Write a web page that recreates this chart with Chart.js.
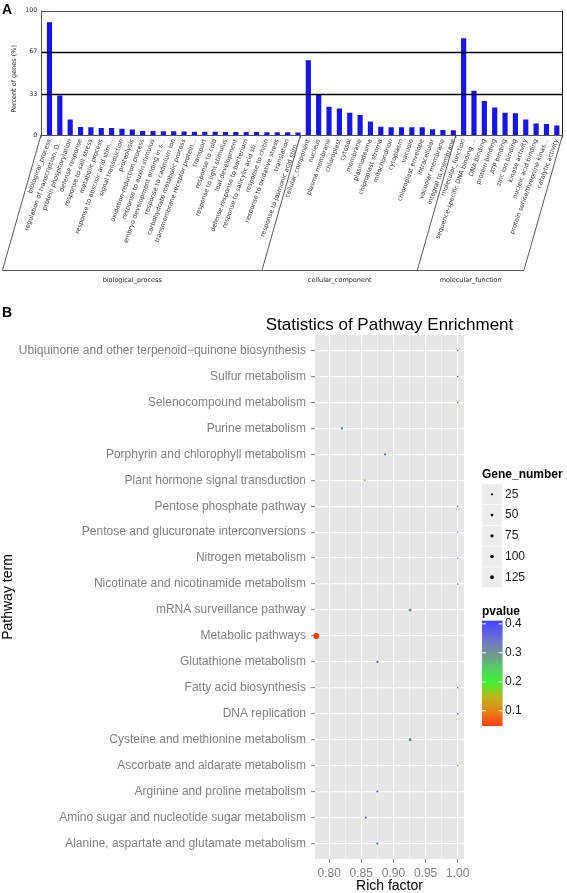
<!DOCTYPE html>
<html>
<head>
<meta charset="utf-8">
<script src="https://cdn.jsdelivr.net/npm/chart.js@4.4.0/dist/chart.umd.min.js"></script>
<style>
body { margin:0; background:#fff; }
#wrapA { position:absolute; left:0; top:0; width:567px; height:295px; }
#wrapB { position:absolute; left:0; top:295px; width:567px; height:598px; }
</style>
</head>
<body>
<div id="wrapA"><canvas id="goChart"></canvas></div>
<div id="wrapB"><canvas id="keggChart"></canvas></div>
<script>
// ---- dados painel A (GO) ----
const goTerms = [
  'biological_process', 'regulation of transcription, D...', 'protein phosphorylation', 'defense response',
  'response to salt stress', 'metabolic process', 'response to abscisic acid stim...', 'signal transduction',
  'proteolysis', 'oxidation-reduction process', 'response to auxin stimulus', 'embryo development ending in s...',
  'response to cadmium ion', 'carbohydrate metabolic process', 'transmembrane receptor protein...', 'transport',
  'response to cold', 'response to light stimulus', 'leaf development', 'defense response to bacterium',
  'response to salicylic acid sti...', 'response to chitin', 'response to oxidative stress', 'translation',
  'response to jasmonic acid stim...',
  'cellular_component', 'nucleus', 'plasma membrane', 'chloroplast', 'cytosol', 'membrane', 'plasmodesma',
  'chloroplast stroma', 'mitochondrion', 'cytoplasm', 'vacuole', 'chloroplast envelope', 'intracellular',
  'vacuolar membrane', 'integral to membrane',
  'molecular_function', 'sequence-specific DNA binding ...', 'DNA binding', 'protein binding', 'ATP binding',
  'zinc ion binding', 'kinase activity', 'nucleic acid binding', 'protein serine/threonine kinas...', 'catalytic activity'
]
const goPercent = [
  90.7, 31.7, 12.4, 6.4, 6.2, 5.7, 5.7, 5.1, 4.4, 3.3, 3.3, 3.1, 3.1, 2.8, 2.6,
  2.6, 2.6, 2.5, 2.4, 2.4, 2.4, 2.3, 2.3, 2.3, 2.0,
  60.1, 32.5, 22.7, 21.4, 18.0, 16.2, 10.8, 6.7, 6.2, 6.2, 6.2, 6.2, 4.6, 4.1, 3.9,
  77.9, 35.6, 27.3, 22.2, 18.0, 17.5, 12.4, 9.3, 8.8, 7.7
]
const goGroupNames = ['biological_process', 'cellular_component', 'molecular_function']
const goGroupSizes = [25, 15, 10]
const goYTicks = [0, 33, 67, 100]

// ---- dados painel B (KEGG) ----
const pathways = [
  'Ubiquinone and other terpenoid\u2212quinone biosynthesis', 'Sulfur metabolism', 'Selenocompound metabolism',
  'Purine metabolism', 'Porphyrin and chlorophyll metabolism', 'Plant hormone signal transduction',
  'Pentose phosphate pathway', 'Pentose and glucuronate interconversions', 'Nitrogen metabolism',
  'Nicotinate and nicotinamide metabolism', 'mRNA surveillance pathway', 'Metabolic pathways',
  'Glutathione metabolism', 'Fatty acid biosynthesis', 'DNA replication', 'Cysteine and methionine metabolism',
  'Ascorbate and aldarate metabolism', 'Arginine and proline metabolism', 'Amino sugar and nucleotide sugar metabolism',
  'Alanine, aspartate and glutamate metabolism'
]
const richFactor = [1.0, 1.0, 1.0, 0.82, 0.887, 0.855, 1.0, 1.0, 1.0, 1.0, 0.926, 0.780, 0.875, 1.0, 1.0, 0.926, 1.0, 0.875, 0.857, 0.875]
const geneNumber = [1, 1, 1, 9, 8, 6, 1, 1, 1, 1, 25, 140, 7, 1, 1, 25, 1, 7, 6, 7]
const pvalue = [0.40, 0.40, 0.40, 0.33, 0.36, 0.15, 0.40, 0.40, 0.40, 0.40, 0.30, 0.06, 0.37, 0.40, 0.40, 0.30, 0.40, 0.37, 0.35, 0.37]
const richTicks = [0.8, 0.825, 0.85, 0.875, 0.9, 0.925, 0.95, 0.975, 1.0]
const richLabels = ['0.80', '', '0.85', '', '0.90', '', '0.95', '', '1.00']
const geneBreaks = [25, 50, 75, 100, 125]
const pBreaks = [0.4, 0.3, 0.2, 0.1]

// escala de cores do pvalue
const pStops = [0.05, 0.10, 0.15, 0.20, 0.25, 0.30, 0.35, 0.41]
const pCols = [[255,48,0],[228,120,8],[185,175,10],[50,240,40],[75,200,90],[105,140,140],[95,105,205],[55,55,255]]
function corP(p){
  if(p <= pStops[0]) return 'rgb(' + pCols[0].join(',') + ')'
  for(let i = 1; i < pStops.length; i++){
    if(p <= pStops[i]){
      const t = (p - pStops[i-1]) / (pStops[i] - pStops[i-1])
      const c = pCols[i-1].map((v, k) => Math.round(v + (pCols[i][k] - v) * t))
      return 'rgb(' + c.join(',') + ')'
    }
  }
  return 'rgb(' + pCols[pCols.length-1].join(',') + ')'
}
function raio(n){ return 0.5 + 0.21 * Math.sqrt(n) }

const fonteA = '"DejaVu Sans"'
const fonteB = '"Liberation Sans", Arial'

// PAINEL A - barras GO
const goFrame = {
  id: 'goFrame',
  afterDraw(chart){
    const {ctx, chartArea, scales} = chart
    const xs = scales.x, ys = scales.y
    const left = chartArea.left - 3.3, right = chartArea.right
    const base = ys.getPixelForValue(0)
    ctx.save()
    // linhas horizontais
    goYTicks.forEach(v => {
      const y = Math.round(ys.getPixelForValue(v)) + 0.5
      ctx.strokeStyle = (v === 33 || v === 67) ? '#000' : '#555'
      ctx.lineWidth = (v === 33 || v === 67) ? 1.3 : 1
      ctx.beginPath(); ctx.moveTo(left, y); ctx.lineTo(right, y); ctx.stroke()
    })
    ctx.strokeStyle = '#555'; ctx.lineWidth = 1
    ctx.beginPath(); ctx.moveTo(left + 0.5, chartArea.top); ctx.lineTo(left + 0.5, base); ctx.stroke()
    ctx.strokeStyle = '#222'
    ctx.beginPath(); ctx.moveTo(right + 0.5, chartArea.top); ctx.lineTo(right + 0.5, base); ctx.stroke()

    // divisões dos grupos
    const slot = (xs.getPixelForValue(1) - xs.getPixelForValue(0))
    const tops = [left]
    let acc = 0
    goGroupSizes.forEach((n, i) => {
      acc += n
      if(i < goGroupSizes.length - 1) tops.push(xs.getPixelForValue(acc - 1) + slot * 0.25)
    })
    tops.push(right + 0.5)
    const shift = 38.5, yBase = 270
    ctx.strokeStyle = '#444'; ctx.lineWidth = 0.9
    tops.forEach(tx => {
      ctx.beginPath(); ctx.moveTo(tx, base); ctx.lineTo(tx - shift, yBase); ctx.stroke()
      ctx.beginPath(); ctx.moveTo(tx, base); ctx.lineTo(tx, base + 3); ctx.stroke()
    })
    ctx.beginPath(); ctx.moveTo(tops[0] - shift, yBase + 0.5); ctx.lineTo(tops[tops.length-1] - shift, yBase + 0.5); ctx.stroke()

    ctx.fillStyle = '#222'; ctx.font = '6.5px ' + fonteA
    ctx.textAlign = 'center'; ctx.textBaseline = 'middle'
    goGroupNames.forEach((g, i) => {
      const cx = (tops[i] + tops[i+1]) / 2 - shift
      ctx.fillText(g, cx, 280)
    })

    // titulo do eixo y e letra A
    ctx.save()
    ctx.translate(14, (chartArea.top + base) / 2 + 6)
    ctx.rotate(-Math.PI / 2)
    ctx.fillStyle = '#222'; ctx.font = '6.5px ' + fonteA
    ctx.fillText('Percent of genes (%)', 0, 0)
    ctx.restore()
    ctx.fillStyle = '#000'; ctx.font = 'bold 14px ' + fonteB
    ctx.textAlign = 'left'; ctx.textBaseline = 'alphabetic'
    ctx.fillText('A', 2, 13.5)
    ctx.restore()
  }
}

new Chart(document.getElementById('goChart'), {
  type: 'bar',
  data: {
    labels: goTerms,
    datasets: [{
      data: goPercent,
      backgroundColor: '#1616ec',
      borderWidth: 0,
      categoryPercentage: 1,
      barPercentage: 0.5
    }]
  },
  options: {
    responsive: true,
    maintainAspectRatio: false,
    animation: false,
    layout: { padding: { top: 5.7, right: 5, left: 0, bottom: 0 } },
    plugins: { legend: { display: false }, tooltip: { enabled: false } },
    scales: {
      x: {
        grid: { display: false, drawTicks: false },
        border: { display: false },
        ticks: {
          autoSkip: false, minRotation: 70, maxRotation: 70, padding: 3,
          color: '#333', font: { family: 'DejaVu Sans', size: 6.3 }
        },
        afterFit(s){ s.height = 160; s.paddingLeft = 0; s.paddingRight = 0 }
      },
      y: {
        min: 0, max: 100,
        grid: { display: false, drawTicks: false },
        border: { display: false },
        afterBuildTicks(s){ s.ticks = goYTicks.map(v => ({ value: v })) },
        ticks: { padding: 7, color: '#111', font: { family: 'DejaVu Sans', size: 6.3 } },
        afterFit(s){ s.width = 44.3 }
      }
    }
  },
  plugins: [goFrame]
})

// PAINEL B - enriquecimento de vias
const keggFrame = {
  id: 'keggFrame',
  beforeDraw(chart){
    const {ctx, chartArea} = chart
    ctx.save()
    ctx.fillStyle = '#e6e6e6'
    ctx.fillRect(chartArea.left, chartArea.top, chartArea.right - chartArea.left, chartArea.bottom - chartArea.top)
    ctx.restore()
  },
  afterDraw(chart){
    const {ctx, chartArea} = chart
    ctx.save()
    ctx.fillStyle = '#000'
    ctx.textAlign = 'center'; ctx.textBaseline = 'middle'
    ctx.font = '17px ' + fonteB
    ctx.fillText('Statistics of Pathway Enrichment', (chartArea.left + chartArea.right) / 2, 30.5)
    ctx.font = '14px ' + fonteB
    ctx.fillText('Rich factor', (chartArea.left + chartArea.right) / 2, 591)
    ctx.save()
    ctx.translate(8, (chartArea.top + chartArea.bottom) / 2)
    ctx.rotate(-Math.PI / 2)
    ctx.fillText('Pathway term', 0, 0)
    ctx.restore()

    ctx.textAlign = 'left'
    ctx.font = 'bold 14px ' + fonteB
    ctx.textBaseline = 'alphabetic'
    ctx.fillText('B', 2, 21.7)

    // legenda Gene_number
    const lx = 482
    ctx.textBaseline = 'middle'
    ctx.font = 'bold 12px ' + fonteB
    ctx.fillStyle = '#000'
    ctx.fillText('Gene_number', lx, 180)
    geneBreaks.forEach((g, i) => {
      const cy = 199.3 + i * 20.75
      ctx.fillStyle = '#ececec'
      ctx.fillRect(lx, cy - 10, 20, 20)
      ctx.fillStyle = '#111'
      ctx.beginPath(); ctx.arc(lx + 10, cy, raio(g) * 0.7, 0, Math.PI * 2); ctx.fill()
      ctx.font = '12px ' + fonteB
      ctx.fillStyle = '#1a1a1a'
      ctx.fillText(String(g), lx + 23, cy)
    })

    // legenda pvalue
    ctx.font = 'bold 12px ' + fonteB
    ctx.fillStyle = '#000'
    ctx.fillText('pvalue', lx, 317)
    const top = 325.7, h = 104.3, pTop = 0.411, pBot = 0.051
    for(let k = 0; k < h; k++){
      const p = pTop - (k / h) * (pTop - pBot)
      ctx.fillStyle = corP(p)
      ctx.fillRect(lx, top + k, 20.5, 1.2)
    }
    ctx.font = '12px ' + fonteB
    pBreaks.forEach(p => {
      const y = top + (pTop - p) / (pTop - pBot) * h
      ctx.strokeStyle = '#fff'; ctx.lineWidth = 1
      ctx.beginPath(); ctx.moveTo(lx, y); ctx.lineTo(lx + 4, y); ctx.stroke()
      ctx.beginPath(); ctx.moveTo(lx + 16.5, y); ctx.lineTo(lx + 20.5, y); ctx.stroke()
      ctx.fillStyle = '#1a1a1a'
      ctx.fillText(p.toFixed(1), lx + 23, y)
    })
    ctx.restore()
  }
}

new Chart(document.getElementById('keggChart'), {
  type: 'scatter',
  data: {
    datasets: [{
      data: pathways.map((p, i) => ({ x: richFactor[i], y: i })),
      pointRadius: geneNumber.map(raio),
      pointBackgroundColor: pvalue.map(corP),
      pointBorderWidth: 0,
      clip: false
    }]
  },
  options: {
    responsive: true,
    maintainAspectRatio: false,
    animation: false,
    layout: { padding: { top: 40, right: 103, left: 0, bottom: 0 } },
    plugins: { legend: { display: false }, tooltip: { enabled: false } },
    scales: {
      x: {
        type: 'linear', min: 0.778, max: 1.0098,
        afterBuildTicks(s){ s.ticks = richTicks.map(v => ({ value: v })) },
        grid: {
          color: '#fff',
          lineWidth: c => (c.index % 2 === 0 ? 1.2 : 0.5),
          tickColor: c => (c.index % 2 === 0 ? '#808080' : 'rgba(0,0,0,0)'),
          tickLength: 4, tickWidth: 1
        },
        border: { display: false },
        ticks: {
          callback: (v, i) => richLabels[i],
          autoSkip: false, maxRotation: 0, padding: 3,
          color: '#808080', font: { family: 'Liberation Sans', size: 12 }
        },
        afterFit(s){ s.height = 34; s.paddingLeft = 0; s.paddingRight = 0 }
      },
      y: {
        type: 'linear', min: -0.6, max: 19.6, reverse: true,
        afterBuildTicks(s){ s.ticks = pathways.map((p, i) => ({ value: i })) },
        grid: { color: '#fff', lineWidth: 1.2, tickColor: '#808080', tickLength: 4, tickWidth: 1 },
        border: { display: false },
        ticks: {
          callback: v => pathways[v],
          autoSkip: false, padding: 5,
          color: '#808080', font: { family: 'Liberation Sans', size: 12 }
        },
        afterFit(s){ s.width = 315 }
      }
    }
  },
  plugins: [keggFrame]
})
</script>
</body>
</html>
